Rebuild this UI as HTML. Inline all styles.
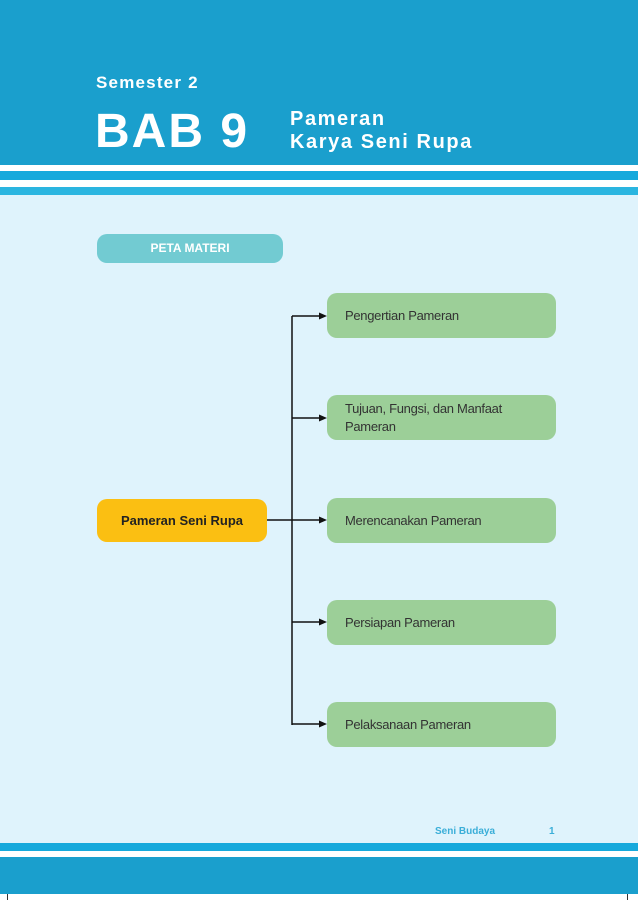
<!DOCTYPE html>
<html><head><style>
body{margin:0;width:638px;height:900px;position:relative;background:#fff;font-family:"Liberation Sans",sans-serif;overflow:hidden}
.a{position:absolute}
.g{position:absolute;left:327px;width:229px;height:45px;background:#9ccf98;border-radius:10px;font-size:13px;color:#333;box-sizing:border-box;padding-left:18px;display:flex;align-items:center;letter-spacing:-0.3px}
</style></head><body>
<div class="a" style="left:0;top:0;width:638px;height:165px;background:#1a9fcd"></div>
<div class="a" style="left:0;top:171px;width:638px;height:9px;background:#16a9dc"></div>
<div class="a" style="left:0;top:187px;width:638px;height:8px;background:#2ab5e0"></div>
<div class="a" style="left:0;top:195px;width:638px;height:648px;background:#dff3fc"></div>
<div class="a" style="left:0;top:843px;width:638px;height:8px;background:#16a9dc"></div>
<div class="a" style="left:0;top:857px;width:638px;height:37px;background:#1a9fcd"></div>
<div class="a" style="left:7px;top:894px;width:1px;height:6px;background:#333"></div>
<div class="a" style="left:627px;top:894px;width:1px;height:6px;background:#333"></div>
<div class="a" style="left:96px;top:73px;color:#fff;font-weight:bold;font-size:17px;letter-spacing:1.2px">Semester 2</div>
<div class="a" style="left:95px;top:104px;color:#fff;font-weight:bold;font-size:48px;line-height:56px;letter-spacing:2px">BAB 9</div>
<div class="a" style="left:290px;top:108px;color:#fff;font-weight:bold;font-size:20px;line-height:23px;letter-spacing:1.6px">Pameran<br>Karya Seni Rupa</div>
<div class="a" style="left:97px;top:234px;width:186px;height:29px;background:#72cbd2;border-radius:10px;color:#fff;font-weight:bold;font-size:12px;text-align:center;line-height:29px">PETA MATERI</div>
<div class="a" style="left:97px;top:499px;width:170px;height:43px;background:#fbbf12;border-radius:10px;color:#222;font-weight:bold;font-size:13px;text-align:center;line-height:43px">Pameran Seni Rupa</div>
<svg class="a" style="left:0;top:0" width="638" height="900">
<g stroke="#111" stroke-width="1.5" fill="none">
<path d="M292 316V725M267 520H320"/>
<path d="M292 316H320M292 418H320M292 622H320M292 724H320"/>
</g>
<g fill="#111">
<path d="M327 316l-8-3.5v7z"/><path d="M327 418l-8-3.5v7z"/><path d="M327 520l-8-3.5v7z"/><path d="M327 622l-8-3.5v7z"/><path d="M327 724l-8-3.5v7z"/>
</g></svg>
<div class="g" style="top:293px">Pengertian Pameran</div>
<div class="g" style="top:395px;line-height:18px">Tujuan, Fungsi, dan Manfaat<br>Pameran</div>
<div class="g" style="top:498px">Merencanakan Pameran</div>
<div class="g" style="top:600px">Persiapan Pameran</div>
<div class="g" style="top:702px">Pelaksanaan Pameran</div>
<div class="a" style="left:435px;top:826px;color:#3aaed8;font-size:10px;font-weight:bold">Seni Budaya</div>
<div class="a" style="left:549px;top:826px;color:#3aaed8;font-size:10px;font-weight:bold">1</div>
</body></html>
